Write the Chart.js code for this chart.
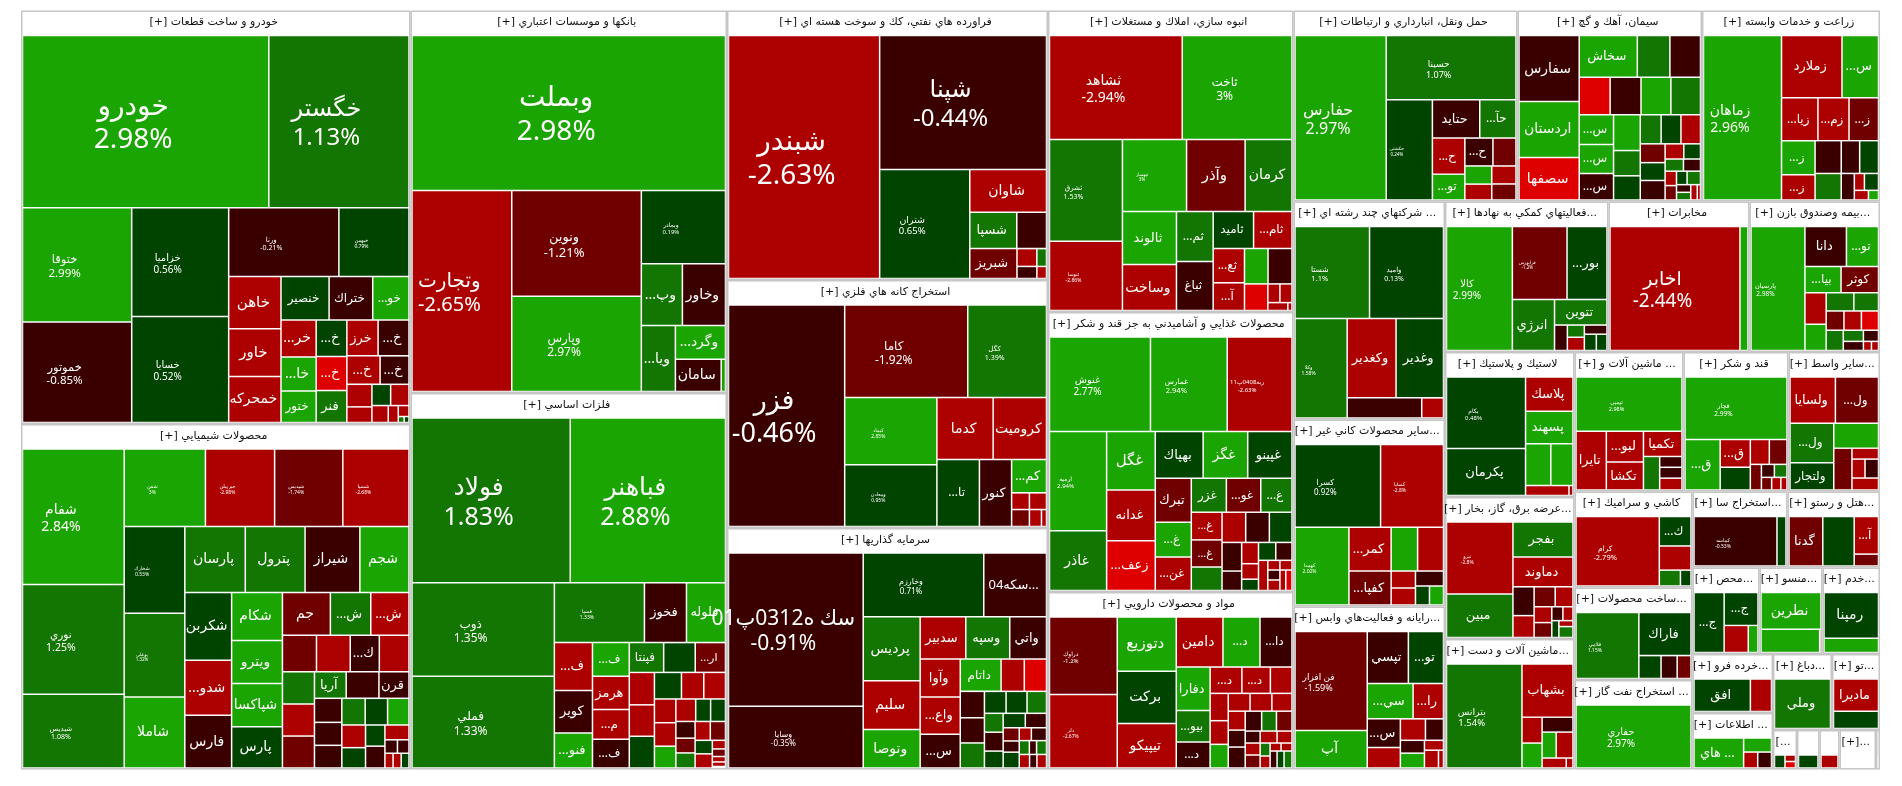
<!DOCTYPE html>
<html lang="fa">
<head>
<meta charset="utf-8">
<title>نقشه بازار</title>
<script src="https://cdn.jsdelivr.net/npm/chart.js@4/dist/chart.umd.js"></script>
<style>
  html, body { margin: 0; padding: 0; background: #fff; }
  canvas { display: block; }
</style>
</head>
<body>
<canvas id="map" width="1902" height="786"></canvas>
<script>
/* --------------- Sectors --------------------- */
const sectorNames = [
  "خودرو و ساخت قطعات [+]", "محصولات شيميايي [+]", "بانكها و موسسات اعتباري [+]", "فلزات اساسي [+]",
  "فراورده هاي نفتي، كك و سوخت هسته اي [+]", "استخراج كانه هاي فلزي [+]", "سرمايه گذاريها [+]",
  "انبوه سازي، املاك و مستغلات [+]", "محصولات غذايي و آشاميدني به جز قند و شكر [+]", "مواد و محصولات دارويي [+]",
  "حمل ونقل، انبارداري و ارتباطات [+]", "سيمان، آهك و گچ [+]", "زراعت و خدمات وابسته [+]",
  "... شركتهاي چند رشته اي [+]", "...ساير محصولات كاني غير [+]", "...رايانه و فعاليت‌هاي وابس [+]",
  "...فعاليتهاي كمكي به نهادها [+]", "مخابرات [+]", "...بيمه وصندوق بازن [+]",
  "لاستيك و پلاستيك [+]", "...عرضه برق، گاز، بخار [+]", "...ماشين آلات و دست [+]",
  "... ماشين آلات و [+]", "قند و شكر [+]", "...ساير واسط [+]",
  "كاشي و سراميك [+]", "...ساخت محصولات [+]", "... استخراج نفت گاز [+]",
  "...استخراج سا [+]", "...هتل و رستو [+]",
  "...محص [+]", "...منسو [+]", "...خدم [+]",
  "...خرده فرو [+]", "... اطلاعات [+]",
  "...دباغ [+]", "...تو [+]",
  "[...", "", "", "[+]...", ""
];
const sectorSizes = [
  161058, 134572, 121061, 119162, 86510, 79608, 77522, 74018, 68740, 43576, 42784, 35240, 33998, 33027,
  28331, 24695, 24607, 21221, 19640, 18778, 18389, 16900, 15206, 14648, 12764, 11328, 10915, 10561,
  7220, 7030, 5796, 5450, 4974, 4750, 4548, 4484, 3648, 948, 889, 790, 1442, 158
];
// how many items go in each strip: positive = column on the left, negative = row on top
const sectorStrips = [2, 2, 3, 3, -3, 3, -3, 3, -3, 3, -2, -3, 2, -2, 1, 1, 1, 1, 1];

/* --------------- Stocks, one list per sector --------------------- */
const cellNames = [
  ["خودرو","خگستر","ختوقا","خموتور","خزاميا","خسايا","ورنا","خبهمن","خاهن","خاور","خمحركه","خنصير","ختراك","خو...","خر...","خا...","ختور","خ...","خ...","فنر","خرز","خ...","خ...","خ...","","","","","","","","",""],
  ["شفام","نوري","شبديس","شفن","جم پيلن","شپديس","شسپا","شخارك","بوعلي","شاملا","پارسان","پترول","شيراز","شجم","شكربن","شدو...","فارس","شكام","ويترو","شپاكسا","پارس","جم","ش...","ش...","","","ك...","","","","","آريا","","قرن","","","","","","","","","","","","","","","",""],
  ["وبملت","وتجارت","ونوين","وپارس","وبمادر","وپ...","وخاور","ويا...","وگرد...","سامان",""],
  ["فولاد","فباهنر","ذوب","فملي","فسپا","فخوز","فلوله","ف...","كوير","فنو...","ف...","هرمز","م...","ف...","فپنتا","","ار...","","","","","","","","","","","","","","","","","","","","","","","",""],
  ["شبندر","شپنا","شتران","شاوان","شسپا","","شبريز","","","",""],
  ["فزر","كاما","كگل","كيماد","ومعادن","كدما","كروميت","تا...","كنور","كم...","","","","",""],
  ["سك ه0312پ01","وسايا","وخارزم","...سكه04","پرديس","سليم","وتوصا","سدبير","وسپه","واتي","وآوا","واع...","س...","داتام","","","","","","","","","","","","","","","","","","","","","","","",""],
  ["ثشاهد","ثاخت","ثشرق","ثنوسا","ثبهساز","وآذر","كرمان","ثالوند","وساخت","ثم...","ثباغ","ثاميد","ثام...","ثع...","آ...","","","","","","",""],
  ["غنوش","غمارس","ربه0408پ11","ارميه","غاذر","غگل","غدانه","زعف...","بهپاك","غگز","غپينو","تبرك","غ...","غن...","غزر","غو...","غ...","غ...","غ...","","","","","","","","","","","","","","","","","",""],
  ["دراوك","دلر","دتوزيع","بركت","تيپيكو","دامين","د...","دا...","دفارا","بيو...","د...","د...","د...","","","","","","","","","","","","","","","","","","","","","","","","",""],
  ["حفارس","حسينا","حكشتي","حتايد","حآ...","ح...","تو...","ح...","","","","",""],
  ["سفارس","اردستان","سصفها","سخاش","","","","","","","س...","س...","س...","","","","","","","","","","","","","","","","","","","","",""],
  ["زماهان","زملارد","س...","زيا...","زم...","ز...","ز...","ز...","","","","","","","","",""],
  ["شستا","واميد","وكلا","وكغدير","وغدير","",""],
  ["كسرا","كسايا","كهمدا","كمر...","كفپا...","","","","","","",""],
  ["فن افزار","آپ","تپسي","تو...","سي...","را...","س...","","","","","","","",""],
  ["كالا","فرابورس","بور...","انرژي","تتوين","","","","","",""],
  ["اخابر",""],
  ["پارسيان","دانا","تو...","بيا...","كوثر","","","","","","","","","","","","",""],
  ["بكام","پكرمان","پلاسك","پسهند","","","",""],
  ["نيرو","مبين","بفجر","دماوند","","","","","","","","","","",""],
  ["بترانس","بشهاب","","","","","","",""],
  ["تپمپي","تايرا","لبو...","تكشا","تكميا","","","",""],
  ["قچار","ق...","ق...","","","","","","","","",""],
  ["ولسايا","ول...","ول...","ولتجار","","","","","",""],
  ["كرام","ك...","","",""],
  ["فلامي","فاراك","","",""],
  ["حفاري"],
  ["كماسه",""],
  ["گدنا","","آ...",""],
  ["ج...","ج...","",""],
  ["نطرين","",""],
  ["رمپنا",""],
  ["افق",""],
  ["... هاي","","",""],
  ["وملي"],
  ["ماديرا",""],
  ["","",""],
  [""],
  [""],
  [""],
  [""]
];
const cellSizes = [
  [42435,24150,12500,10980,10570,10280,7590,4830,2740,2496,2408,2100,1905,1584,1295,1200,1110,1120,1044,982,1116,1105,947,824,565,392,398,390,277,170,118,35,29],
  [13800,11165,7510,6294,5361,5284,5128,5264,5082,4314,4006,3960,3630,3254,3176,2569,2475,2434,2195,2200,2094,2043,1722,1629,1248,1238,1066,1088,1033,1027,1024,843,870,798,659,629,621,624,598,572,538,483,411,424,357,169,156,120,120,115],
  [48515,20040,13690,12340,6157,2542,2666,2244,1685,1476,139],
  [26180,25684,13348,13107,5400,2520,2340,1835,1623,1341,1248,1222,1101,1064,1029,945,906,818,793,800,721,595,579,511,505,469,448,336,336,323,285,291,288,288,234,245,114,100,72,60,20],
  [36693,22338,9810,3275,1706,1078,1410,354,172,240,116],
  [25636,11353,7264,6164,5676,3474,3295,2834,2144,1155,296,301,284,204,85],
  [20723,8327,7712,4013,3646,2795,2194,1933,1861,1557,1532,1492,1360,1324,753,720,640,610,607,477,462,429,355,355,318,321,307,213,181,256,156,195,140,100,138,140,100,130],
  [13832,11440,7424,5059,4610,4209,3370,2878,2484,1846,1798,1501,1427,1076,868,836,850,622,226,226,158,33],
  [9522,7238,6110,5647,3402,2830,2463,2415,2222,2070,2056,1582,1250,1200,1189,1166,1059,849,831,720,713,713,682,560,380,357,260,190,308,290,280,117,117,120,127,120,127],
  [5280,5010,3227,3103,2637,2350,1865,1610,1483,1068,886,842,755,573,499,432,432,390,390,360,323,289,357,329,296,311,180,180,195,204,180,130,120,88,88,119,119,136],
  [15015,8340,4632,1816,1390,1172,840,784,644,489,427,437,389],
  [3998,3377,2575,2431,1364,1280,1166,1166,1128,1117,1029,995,916,961,678,649,609,580,571,469,445,487,285,255,224,208,165,165,143,182,110,110,100,50],
  [12820,3757,2268,1561,1333,1264,1146,842,858,694,604,617,347,170,238,136,97],
  [6784,6729,5148,3847,3737,1486,434],
  [7080,5204,4189,1848,1428,1157,1131,413,413,420,266,266],
  [7200,2736,2160,1845,1627,1079,957,683,543,390,312,360,190,252,90],
  [8032,3926,2870,2114,1318,321,204,221,204,192,171],
  [15867,984],
  [6556,1628,1258,928,962,657,546,495,441,336,329,323,340,220,165,180,72,63],
  [5614,3704,1612,1537,1050,924,430,40],
  [4772,2884,2090,1791,609,462,420,354,280,263,154,140,119,84,154],
  [7820,2702,520,500,460,364,434,240,67],
  [5744,1779,1138,1039,969,544,242,242,264],
  [6407,1785,840,690,475,442,286,169,165,130,117,78],
  [2100,1994,1719,1195,1110,761,290,247,255,317],
  [5761,929,761,334,167],
  [4130,2238,506,368,315],
  [7262],
  [4135,450],
  [1667,1550,912,288],
  [1821,1122,658,266],
  [2212,1357,30],
  [2472,769],
  [1809,678],
  [1578,415,238,233],
  [2733],
  [1407,755],
  [170,85,85],
  [1],
  [1],
  [1],
  [1]
];
const cellChanges = [
  [2.98,1.13,2.99,-0.85,0.56,0.52,-0.21,0.79,-2.6,-2.6,-2.5,0.5,-0.6,2.5,-2.6,2.5,2.5,0.6,-3.2,1.3,-2.6,-0.7,-2.5,-0.7,-2.5,-2.5,0.4,-2.5,-2.5,-2.5,-2.5,1.2,0.5],
  [2.84,1.25,1.08,3,-2.98,-1.74,-2.68,0.53,1.32,2.5,1.3,1.3,-0.7,2.5,0.5,-2.6,-0.7,2.5,2.5,2.5,0.5,-1.5,1.3,-2.5,-1.5,-2.5,-0.7,-2.5,1.3,-2.6,-1.5,1.2,-0.7,-0.7,-0.7,-0.7,-0.7,1.3,0.5,2.5,-2.5,0.5,0.5,-0.7,-2.5,-0.7,-0.7,-2.5,-2.5,0.5],
  [2.98,-2.65,-1.21,2.97,0.19,1.3,-0.7,1.3,2.5,-0.7,2.5],
  [1.83,2.88,1.35,1.33,1.33,-0.7,2.5,-2.6,-0.7,2.5,2.5,-2.6,-2.6,-0.7,1.3,0.5,-1.5,-2.6,-2.6,0.5,0.5,-2.6,-2.6,-2.6,-2.6,2.5,-2.6,0.5,0.5,-0.7,-1.5,1.3,-2.6,-1.5,0.5,-2.6,-2.6,-1.5,-2.6,-2.6,0.5],
  [-2.63,-0.44,0.65,-2.6,1.3,-0.7,-1.5,-2.6,1.3,-0.7,-2.6],
  [-0.46,-1.92,1.39,2.85,0.95,-2.6,-2.6,0.6,-0.7,2.5,-2.6,-1.5,-2.6,-2.6,-2.6],
  [-0.91,-0.35,0.71,-0.7,1.3,-2.6,2.5,-2.6,1.3,-0.7,-2.6,-2.6,-0.7,2.5,-2.6,-3.2,-0.7,-0.7,1.3,0.5,0.5,1.3,1.3,-0.7,0.5,0.5,-0.7,-1.5,-0.7,0.5,-2.6,-0.7,1.3,-0.7,1.3,-2.6,-0.7,-2.6],
  [-2.94,3,1.53,-2.86,3,-1.5,1.3,2.5,-2.6,1.3,-0.7,0.5,-2.6,-2.6,-2.6,2.5,-0.7,-3.2,-2.6,-2.6,-2.6,-2.6],
  [2.77,2.94,-2.63,2.94,1.3,2.5,-2.6,-3.2,0.5,2.5,0.5,-1.5,2.5,-2.6,1.3,-1.5,1.3,-2.6,-1.5,1.3,-2.6,-0.7,0.5,-0.7,-0.7,-2.6,-2.6,0.5,0.5,-0.7,-2.6,-2.6,-2.6,-0.7,-2.6,-2.6,-3.2],
  [-1.2,-2.67,2.5,0.5,-2.6,-2.6,2.5,-0.7,2.5,1.3,-0.7,-2.6,-2.6,-2.6,-2.6,-2.6,2.5,-2.6,-2.6,-2.6,-2.6,-0.7,-0.7,-0.7,1.3,-1.5,-0.7,-2.6,-1.5,-2.6,-2.6,1.3,-2.6,-2.6,-2.6,-0.7,0.5,1.3],
  [2.97,1.07,0.24,-0.7,1.3,-2.6,2.5,-0.7,-1.5,2.5,-2.6,-2.6,-1.5],
  [-0.7,2.5,-3.2,2.5,1.3,-0.7,-3.2,-0.7,2.5,1.3,2.5,2.5,-0.7,2.5,1.3,0.5,1.3,0.5,-2.6,-1.5,0.5,-0.7,-2.6,0.5,1.3,-0.7,-2.6,-1.5,0.5,1.3,-0.7,1.3,-2.6,-2.6],
  [2.96,-2.6,2.5,-2.6,-2.6,-1.5,2.5,-2.6,-0.7,1.3,-0.7,0.5,-0.7,-2.6,0.5,-2.6,2.5],
  [1.1,0.13,1.58,-2.6,0.5,-0.7,-2.6],
  [0.92,-2.8,2.02,-2.6,-1.5,2.5,-2.6,-2.6,-2.6,-0.7,0.5,2.5],
  [-1.59,2.5,-0.7,0.5,2.5,-2.6,-0.7,-2.6,-2.6,-0.7,-0.7,2.5,-2.6,-2.6,-2.6],
  [2.99,-1.2,0.5,1.3,1.3,-0.7,1.3,-2.6,-0.7,0.5,0.5],
  [-2.44,2.5],
  [2.98,-0.7,2.5,2.5,-1.5,-2.6,2.5,1.3,1.3,-1.5,-2.6,-3.2,1.3,1.3,-0.7,-0.7,-2.6,-2.6],
  [0.48,0.5,-2.6,2.5,2.5,2.5,-2.6,-2.6],
  [-2.8,1.3,1.3,-2.6,-0.7,-2.6,-1.5,-2.6,-2.6,-1.5,-0.7,-2.6,0.5,-2.6,1.3],
  [1.54,-2.6,-2.6,2.5,-0.7,2.5,-2.6,-2.6,-2.6],
  [2.98,-2.6,-2.6,-2.6,-2.6,1.3,-0.7,-0.7,-2.6],
  [2.99,2.5,-2.6,0.5,-2.6,-1.5,-1.5,-0.7,1.3,-1.5,-2.6,-2.6],
  [-2.6,-1.5,1.3,0.5,2.5,-1.5,-2.6,-2.6,-0.7,-2.6],
  [-2.79,0.5,-2.6,1.3,0.5],
  [1.15,0.5,0.5,-0.7,-1.5],
  [2.97],
  [-0.53,0.5],
  [-1.5,0.5,-2.6,-1.5],
  [0.5,0.5,-2.6,2.5],
  [2.5,2.5,-2.6],
  [0.5,2.5],
  [0.5,-2.6],
  [2.5,2.5,-2.6,-0.7],
  [1.3],
  [-2.6,0.5],
  [0.5,-2.6,-3.2],
  [0.5],
  [-2.6],
  [null],
  [null]
];
const cellStrips = [
  [-2,2,2,-2,3,-3,3,3,-2,-2,2,-2,1,1,-1,1,1],
  [3,-4,3,-4,3,4,-3,-4,3,-3,3,-3,2,2,-1,-2,1,1,1],
  [-1,1,2,-1,-2,1,-1,1,1],
  [-2,2,-3,3,4,-3,3,-3,3,-3,3,-2,2,-1,-1,-1,-1,-1],
  [1,-1,1,-1,-2,1,-2,-2],
  [1,-2,2,-2,1,1,-1,2,-1,1,1],
  [2,-2,3,-3,3,-3,3,-3,3,-2,3,-2,-3,1,1,1],
  [-2,2,-3,2,2,-2,2,-2,1,-2,1,1],
  [-3,2,3,-3,3,-3,3,-3,2,3,-2,1,-2,2,-2],
  [2,3,-3,3,-3,3,-3,3,-3,3,-2,2,-2,1,1,1],
  [1,-1,1,-2,2,-2,2,-1,-1],
  [3,-3,-4,3,3,-3,3,-2,-2,2,-2,2,-2],
  [1,-2,-3,2,2,-2,1,-2,1,1],
  [-2,1,-2,1,1],
  [-2,1,2,-2,2,-1,1,1],
  [2,-2,-2,2,-2,2,-1,1,1],
  [1,-2,1,-1,1,2,-1,1,1],
  [1,1],
  [1,-2,-2,2,-2,-3,1,-2,1,1,1],
  [2,-1,-1,-2,1,1],
  [2,-1,-1,2,-2,2,-2,1,-1,1],
  [1,-1,2,-1,-2,1,1],
  [-1,1,2,-1,1,-1,-1,-1],
  [-1,1,2,-2,1,-2,1,1,1],
  [-2,2,-1,1,-1,-2,-1],
  [1,-1,-1,1,1],
  [1,-1,1,1,1],
  [1],
  [1,1],
  [1,1,-1,-1],
  [1,-1,1,1],
  [-1,1,1],
  [-1,-1],
  [1,1],
  [1,-1,1,1],
  [1],
  [-1,-1],
  [1,-1,-1],
  [1],
  [1],
  [1],
  [1]
];
// the first N stocks of each sector also show their percentage
const pctShown = [8,9,5,5,3,5,3,5,4,2,3,0,1,3,3,1,2,1,1,1,1,1,1,1,0,1,1,1,1,0,0,0,0,0,0,0,0,0,0,0,0,0];

/* --------------- Label font px, only for the stocks that have a name --------------------- */
const labelPx = [
  [28,24,11.5,11.5,10,10,7,5,15,15,14,12,12,12,14,14,12,13,13,13,13,13,13,13],
  [14,10.5,7,5,5,5,5,5,4.5,14,14,14,14,14,14,14,14,14,14,14,14,14,13,13,13,13,13],
  [28,20,13,12,6,14,14,14,14,14],
  [25,25,12,12,5,13,13,13,13,13,12,13,12,12,12,11],
  [28,24,9.5,14,13,13],
  [27,12,7,5,5,14,14,12,13,13],
  [21,8,8,13,14,14,14,13,13,13,13,13,13,12],
  [14,12,7,5,4.5,15,14,13,14,12,12,12,12,12,12],
  [10,7.5,6,6,14,15,13,13,13,14,13,13,12,12,12,12,12,11,11],
  [6,5,15,14,14,14,12,12,13,12,12,12,12],
  [16,9,4.5,13,12,12,12,12],
  [14,14,14,13,12,12,12],
  [14,13,13,12,12,12,12,12],
  [7.5,7,5,13,13],
  [8,5,5,13,13],
  [9,14,13,13,13,13,13],
  [10,4.5,13,13,13],
  [19],
  [6.5,13,12,12,12],
  [6,13,13,13],
  [5,13,13,13],
  [9.5,13],
  [5.5,13,13,13,13],
  [6.5,13,13],
  [13,12,12,12],
  [7.5,12],
  [5,13],
  [10],
  [5],
  [13,12],
  [12,12],
  [14],
  [14],
  [13],
  [13],
  [13],
  [13],
  [],[],[],[],[]
];

/* --------------- Colours --------------------- */
const colorFor = (pct) => {
  if (pct === null) return "#ffffff";
  if (pct >= 2) return "#1ba502";
  if (pct >= 1) return "#137602";
  if (pct >= 0) return "#004400";
  if (pct > -1) return "#3a0000";
  if (pct > -2) return "#700000";
  if (pct > -3) return "#ad0000";
  return "#de0000";
};

/* --------------- Strip layout, in scale units --------------------- */
const MAP_W = 1859;
const MAP_H = 759;
const HEADER = 25;
const FRAME = 1.5;
const GAP = 0.75;

function stripLayout(box, values, strips) {
  let { x, y, w, h } = box;
  let left = values.reduce((a, b) => a + b, 0);
  const out = [];
  let i = 0;
  for (const n of strips) {
    const part = values.slice(i, i + Math.abs(n));
    const sum = part.reduce((a, b) => a + b, 0);
    const share = sum / left;
    if (n > 0) {
      const cw = w * share;
      let yy = y;
      for (const v of part) {
        out.push({ x0: x, x1: x + cw, y0: yy, y1: yy + h * v / sum });
        yy += h * v / sum;
      }
      x += cw;
      w -= cw;
    } else {
      const ch = h * share;
      let xx = x;
      for (const v of part) {
        out.push({ x0: xx, x1: xx + w * v / sum, y0: y, y1: y + ch });
        xx += w * v / sum;
      }
      y += ch;
      h -= ch;
    }
    left -= sum;
    i += part.length;
  }
  return out;
}

const sectorBoxes = stripLayout({ x: 0, y: 0, w: MAP_W, h: MAP_H }, sectorSizes, sectorStrips);
const frames = [];
const panels = [];
const cells = [];
const cellColors = [];

sectorBoxes.forEach((b, s) => {
  frames.push(b);
  panels.push({ x0: b.x0 + FRAME, x1: b.x1 - FRAME, y0: b.y0 + FRAME, y1: b.y1 - FRAME });
  const inner = { x: b.x0 + FRAME, y: b.y0 + HEADER, w: b.x1 - b.x0 - 2 * FRAME, h: b.y1 - b.y0 - HEADER - FRAME };
  let nextFont = 0;
  stripLayout(inner, cellSizes[s], cellStrips[s]).forEach((r, i) => {
    const name = cellNames[s][i];
    cells.push({
      x0: r.x0 + GAP, x1: r.x1 - GAP, y0: r.y0 + GAP, y1: r.y1 - GAP,
      name: name,
      pct: i < pctShown[s] ? cellChanges[s][i] : null,
      px: name ? labelPx[s][nextFont++] : 0
    });
    cellColors.push(colorFor(cellChanges[s][i]));
  });
});

/* --------------- Treemap controller on the library's bar element --------------------- */
class TreemapController extends Chart.DatasetController {
  update(mode) {
    const meta = this._cachedMeta;
    this.updateElements(meta.data, 0, meta.data.length, mode);
  }
  updateElements(elements, start, count, mode) {
    const { xScale, yScale } = this._cachedMeta;
    const rows = this.getDataset().data;
    for (let i = start; i < start + count; i++) {
      const r = rows[i];
      const l = xScale.getPixelForValue(r.x0);
      const e = xScale.getPixelForValue(r.x1);
      const t = yScale.getPixelForValue(r.y0);
      const b = yScale.getPixelForValue(r.y1);
      Object.assign(elements[i], {
        x: (l + e) / 2, y: t, base: b, width: e - l, height: b - t,
        horizontal: false, inflateAmount: 0, borderSkipped: {},
        options: this.resolveDataElementOptions(i, mode)
      });
    }
  }
  draw() {
    const ctx = this._ctx;
    this._cachedMeta.data.forEach((el) => el.draw(ctx));
  }
}
TreemapController.id = "treemap";
TreemapController.defaults = { dataElementType: "bar" };
Chart.register(TreemapController);

/* --------------- Text on top of the cells --------------------- */
const LABEL_FONT = '"Noto Sans", "DejaVu Sans", sans-serif';
const HEADER_FONT = '11px "DejaVu Sans", sans-serif';
const hasArabic = /[\u0600-\u06FF]/;

const textPlugin = {
  id: "treemapText",
  afterDatasetsDraw(chart) {
    const ctx = chart.ctx;
    const xs = chart.scales.x;
    const ys = chart.scales.y;
    ctx.save();
    ctx.textAlign = "center";
    ctx.textBaseline = "middle";

    ctx.fillStyle = "#111111";
    sectorBoxes.forEach((b, s) => {
      if (!sectorNames[s]) return;
      const l = xs.getPixelForValue(b.x0);
      const e = xs.getPixelForValue(b.x1);
      const t = ys.getPixelForValue(b.y0);
      ctx.save();
      ctx.beginPath();
      ctx.rect(l, t, e - l, HEADER);
      ctx.clip();
      ctx.font = HEADER_FONT;
      ctx.direction = hasArabic.test(sectorNames[s]) ? "rtl" : "ltr";
      ctx.fillText(sectorNames[s], (l + e) / 2 - 2, t + 12);
      ctx.restore();
    });

    ctx.fillStyle = "#ffffff";
    cells.forEach((c) => {
      if (!c.name) return;
      const cx = (xs.getPixelForValue(c.x0) + xs.getPixelForValue(c.x1)) / 2;
      const cy = (ys.getPixelForValue(c.y0) + ys.getPixelForValue(c.y1)) / 2;
      ctx.font = c.px + "px " + LABEL_FONT;
      ctx.direction = "rtl";
      if (c.pct !== null) {
        const line = c.px * 1.2;
        ctx.fillText(c.name, cx - 12.5, cy + 2 - line / 2);
        ctx.direction = "ltr";
        ctx.fillText(c.pct + "%", cx - 12.5, cy + 2 + line / 2);
      } else {
        ctx.fillText(c.name, cx - 1.5, cy);
      }
    });
    ctx.restore();
  }
};

/* --------------- Chart --------------------- */
new Chart(document.getElementById("map"), {
  type: "treemap",
  plugins: [textPlugin],
  data: {
    // the first dataset is painted last
    datasets: [
      { label: "cells", parsing: false, data: cells, backgroundColor: cellColors },
      { label: "panels", parsing: false, data: panels, backgroundColor: "#ffffff" },
      { label: "frames", parsing: false, data: frames, backgroundColor: "#c6c6c6" }
    ]
  },
  options: {
    responsive: false,
    animation: false,
    events: [],
    layout: { padding: { left: 21, top: 10.5, right: 22, bottom: 16.5 } },
    plugins: { legend: { display: false }, tooltip: { enabled: false } },
    scales: {
      x: { type: "linear", display: false, min: 0, max: MAP_W },
      y: { type: "linear", display: false, min: 0, max: MAP_H, reverse: true }
    }
  }
});
</script>
</body>
</html>
